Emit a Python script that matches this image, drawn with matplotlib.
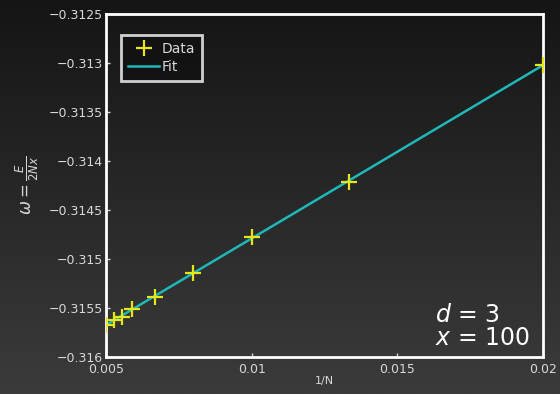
import matplotlib

matplotlib.use("Agg")
import matplotlib.pyplot as plt
import numpy as np

# 1/N values and energies per site
inv_n = [0.005, 0.00526, 0.00556, 0.00588, 0.00667, 0.008, 0.01, 0.01333, 0.02]
omega = [-0.31567, -0.31562, -0.31559, -0.31551, -0.31539, -0.31514, -0.31478, -0.31421, -0.31302]

xticks = [0.005, 0.01, 0.015, 0.02]
yticks = [-0.316, -0.3155, -0.315, -0.3145, -0.314, -0.3135, -0.313, -0.3125]

YELLOW, TEAL, FG = "#e6e619", "#1fb8b8", "#d8d8d8"

fig = plt.figure(figsize=(5.6, 3.94), dpi=100)

# dark vertical gradient background
bg = fig.add_axes([0, 0, 1, 1], zorder=-10)
grad = np.linspace(0, 1, 256).reshape(-1, 1)
bg.imshow(grad, aspect="auto", cmap=matplotlib.colors.LinearSegmentedColormap.from_list(
    "g", ["#151515", "#3b3b3b"]), extent=[0, 1, 0, 1], origin="upper")
bg.axis("off")

ax = fig.add_axes([106 / 560, 1 - 357 / 394, 437 / 560, 343 / 394])
ax.patch.set_alpha(0)

fit = np.polyfit(inv_n, omega, 1)
xs = np.array([min(inv_n), max(inv_n)])
ax.plot(inv_n, omega, ls="none", marker="+", ms=12, mew=1.6, color=YELLOW, label="Data", zorder=3)
ax.plot(xs, np.polyval(fit, xs), color=TEAL, lw=1.8, label="Fit", zorder=2)

ax.set_xlim(0.005, 0.02)
ax.set_ylim(-0.316, -0.3125)
ax.set_xticks(xticks)
ax.set_xticklabels(["0.005", "0.01", "0.015", "0.02"])
ax.set_yticks(yticks)
ax.set_yticklabels([f"{v:g}".replace("-", "\u2212") for v in yticks])
ax.tick_params(colors=FG, labelsize=9, length=3, width=1, direction="in", pad=2)
ax.tick_params(axis="x", pad=4)
for s in ax.spines.values():
    s.set_color("white")
    s.set_linewidth(2)

ax.set_xlabel("1/N", color=FG, fontsize=8, labelpad=0)
ax.set_ylabel(r"$\omega = \frac{E}{2Nx}$", color=FG, fontsize=12, labelpad=6)

leg = ax.legend(loc="upper left", bbox_to_anchor=(0.035, 0.94), fontsize=10, frameon=True,
                fancybox=False, handlelength=2.2, handletextpad=0.2, borderpad=0.5,
                labelspacing=0.3, borderaxespad=0)
leg.get_frame().set_facecolor("#111111")
leg.get_frame().set_edgecolor("white")
leg.get_frame().set_linewidth(2)
for t in leg.get_texts():
    t.set_color(FG)

ax.text(0.753, 0.02, "$d$ = 3\n$x$ = 100", transform=ax.transAxes, ha="left", va="bottom",
        color="white", fontsize=17, linespacing=0.95)

fig.savefig("out.png", dpi=100)
